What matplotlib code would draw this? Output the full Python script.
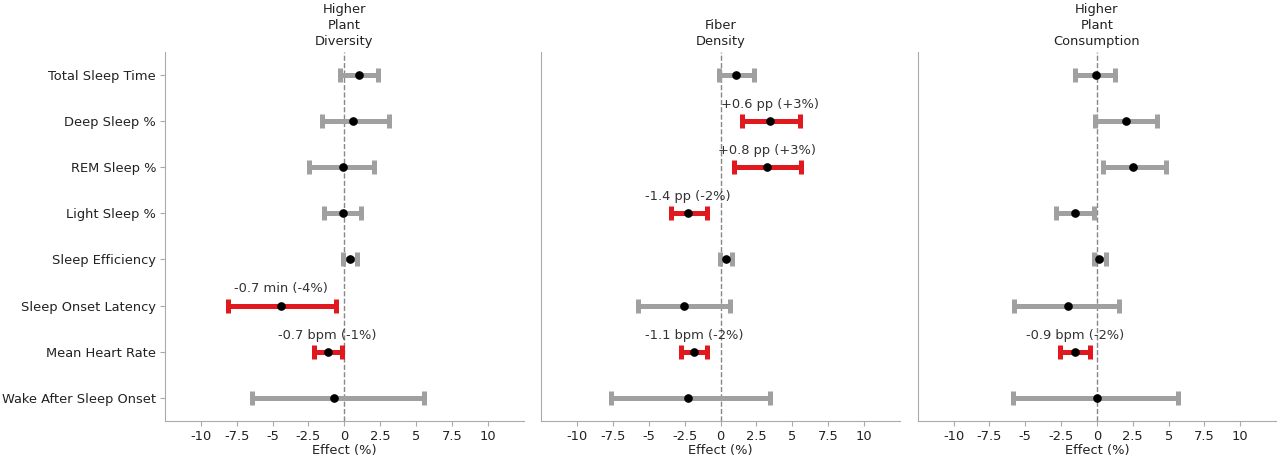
import matplotlib
matplotlib.use("Agg")
import matplotlib.pyplot as plt
import numpy as np

metrics = ["Total Sleep Time", "Deep Sleep %", "REM Sleep %", "Light Sleep %",
           "Sleep Efficiency", "Sleep Onset Latency", "Mean Heart Rate",
           "Wake After Sleep Onset"]
panels = ["Higher\nPlant\nDiversity", "Fiber\nDensity", "Higher\nPlant\nConsumption"]

est_div = [1.0, 0.6, -0.07, -0.12, 0.42, -4.39, -1.16, -0.72]
lo_div = [-0.28, -1.56, -2.44, -1.39, -0.07, -8.08, -2.09, -6.41]
hi_div = [2.32, 3.14, 2.09, 1.18, 0.86, -0.58, -0.16, 5.57]
sig_div = [False, False, False, False, False, True, True, False]
lab_div = ["", "", "", "", "", "-0.7 min (-4%)", "-0.7 bpm (-1%)", ""]

est_fib = [1.09, 3.47, 3.26, -2.26, 0.37, -2.58, -1.84, -2.30]
lo_fib = [-0.14, 1.47, 0.91, -3.44, -0.02, -5.79, -2.74, -7.63]
hi_fib = [2.33, 5.56, 5.63, -0.98, 0.81, 0.65, -0.98, 3.47]
sig_fib = [False, True, True, True, False, False, True, False]
lab_fib = ["", "+0.6 pp (+3%)", "+0.8 pp (+3%)", "-1.4 pp (-2%)", "", "", "-1.1 bpm (-2%)", ""]

est_con = [-0.07, 2.02, 2.49, -1.56, 0.14, -2.02, -1.51, 0.02]
lo_con = [-1.51, -0.16, 0.42, -2.88, -0.21, -5.77, -2.56, -5.86]
hi_con = [1.28, 4.19, 4.79, -0.23, 0.65, 1.53, -0.49, 5.65]
sig_con = [False, False, False, False, False, False, True, False]
lab_con = ["", "", "", "", "", "", "-0.9 bpm (-2%)", ""]

xticks = [-10, -7.5, -5, -2.5, 0, 2.5, 5, 7.5, 10]
xticklabels = ["-10", "-7.5", "-5", "-2.5", "0", "2.5", "5", "7.5", "10"]

data = [(est_div, lo_div, hi_div, sig_div, lab_div),
        (est_fib, lo_fib, hi_fib, sig_fib, lab_fib),
        (est_con, lo_con, hi_con, sig_con, lab_con)]

RED = "#e0191f"
GRAY = "#a0a0a0"
SPINE = "#aaaaaa"
TXT = "#222222"
FS = 9.4

fig, axes = plt.subplots(1, 3, figsize=(12.8, 4.59), dpi=100, sharey=True)
fig.subplots_adjust(left=0.129, right=0.997, top=0.887, bottom=0.083, wspace=0.05)

y = np.arange(len(metrics))
for ax, title, (est, lo, hi, sig, lab) in zip(axes, panels, data):
    ax.axvline(0, color="#888888", linestyle="--", linewidth=1, zorder=1)
    for i in range(len(metrics)):
        c = RED if sig[i] else GRAY
        e = est[i]
        ax.errorbar([e], [y[i]], xerr=[[e - lo[i]], [hi[i] - e]], fmt="none",
                    ecolor=c, elinewidth=3.6, capsize=4.8, capthick=3.6, zorder=2)
        ax.plot([e], [y[i]], "o", color="black", markersize=5.2, zorder=3)
        if lab[i]:
            ax.text(e, y[i] - 0.22, lab[i], ha="center", va="bottom",
                    fontsize=FS, color="#333333", zorder=4)
    ax.set_xlim(-12.5, 12.5)
    ax.set_ylim(len(metrics) - 0.5, -0.5)
    ax.set_xticks(xticks)
    ax.set_xticklabels(xticklabels)
    ax.set_xlabel("Effect (%)", fontsize=FS, color=TXT, labelpad=1)
    ax.set_title(title, fontsize=FS, color=TXT, pad=5, linespacing=1.3)
    for s in ["top", "right"]:
        ax.spines[s].set_visible(False)
    for s in ["left", "bottom"]:
        ax.spines[s].set_color(SPINE)
    ax.tick_params(colors=SPINE, labelcolor=TXT, labelsize=FS, pad=3)

axes[0].set_yticks(y)
axes[0].set_yticklabels(metrics)
for ax in axes[1:]:
    ax.tick_params(axis="y", left=False, labelleft=False)

fig.savefig("out.png", dpi=100)
